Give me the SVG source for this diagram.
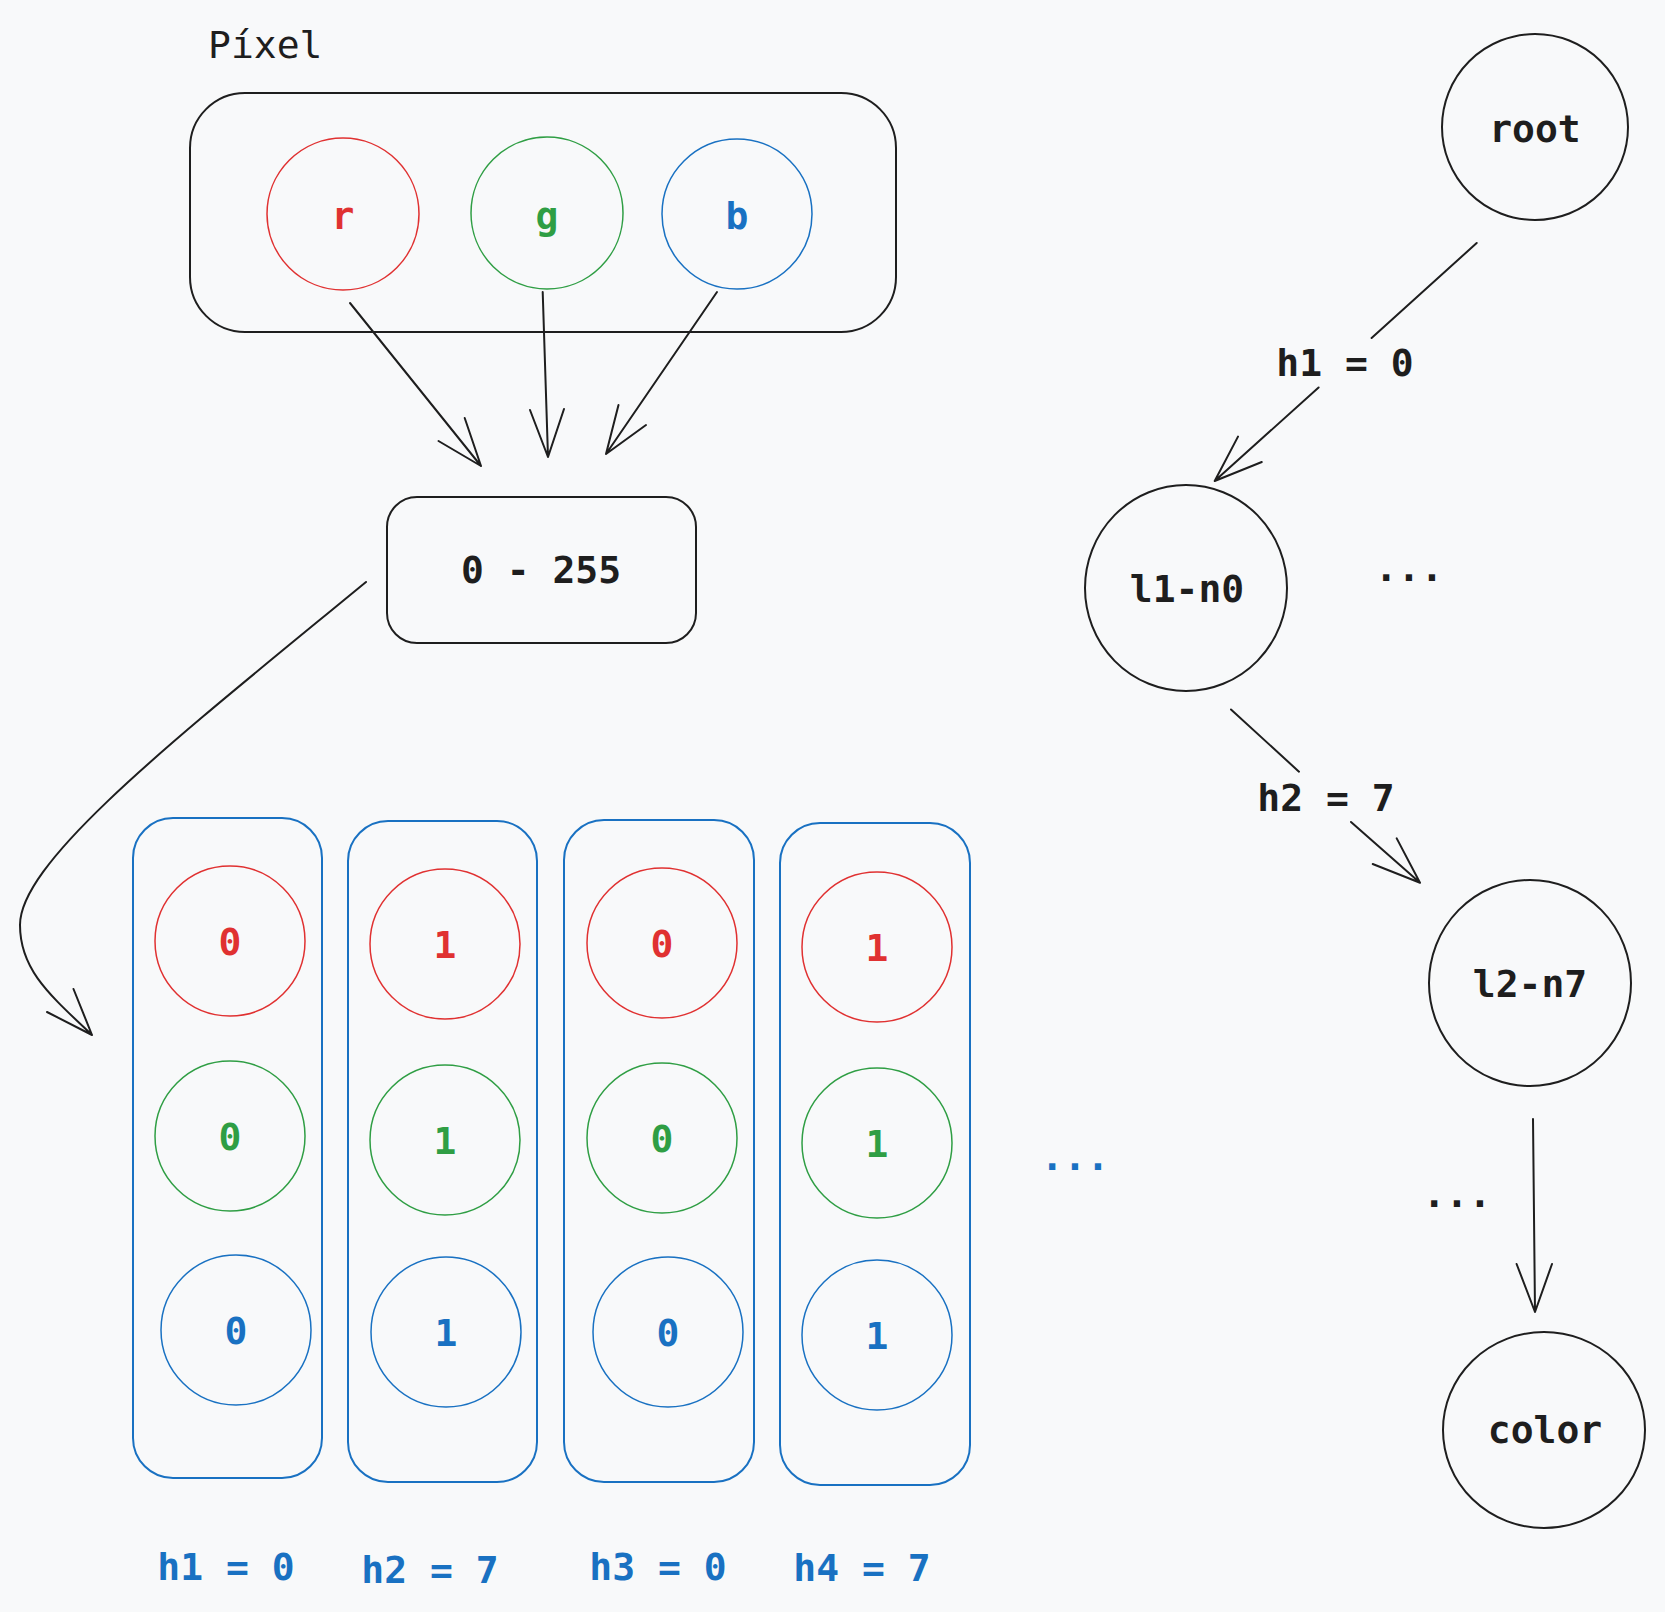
<svg xmlns="http://www.w3.org/2000/svg" width="1665" height="1612" viewBox="0 0 1665 1612">
<style>
text{font-family:"DejaVu Sans Mono","Liberation Mono",monospace;font-size:38px;text-anchor:middle}
.b{font-weight:bold}
.k{fill:#1e1e1e}.r{fill:#e03131}.g{fill:#2f9e44}.u{fill:#1971c2}
.box{fill:none;stroke:#1e1e1e;stroke-width:2}
.col{fill:none;stroke:#1971c2;stroke-width:2}
.cr{fill:none;stroke:#e03131;stroke-width:1.5}
.cg{fill:none;stroke:#2f9e44;stroke-width:1.5}
.cu{fill:none;stroke:#1971c2;stroke-width:1.5}
.ck{fill:none;stroke:#1e1e1e;stroke-width:2}
.ln{fill:none;stroke:#1e1e1e;stroke-width:2;stroke-linecap:round;stroke-linejoin:round}
</style>
<rect width="1665" height="1612" fill="#f8f9fa"/>

<g id="pixel">
<text class="k" x="208" y="58" style="text-anchor:start">Píxel</text>
<rect class="box" x="190" y="93" width="706" height="239" rx="55"/>
</g>
<g id="pixel-r"><circle class="cr" cx="343" cy="214" r="76"/><text class="r b" x="343" y="229">r</text></g>
<g id="pixel-g"><circle class="cg" cx="547" cy="213" r="76"/><text class="g b" x="547" y="229">g</text></g>
<g id="pixel-b"><circle class="cu" cx="737" cy="214" r="75"/><text class="u b" x="737" y="229">b</text></g>

<g id="range"><rect class="box" x="387" y="497" width="309" height="146" rx="30"/><text class="k b" x="541" y="583">0 - 255</text></g>

<g id="col1">
<rect class="col" x="133" y="818" width="189" height="660" rx="40"/>
<circle class="cr" cx="230" cy="941" r="75"/><text class="r b" x="230" y="955">0</text>
<circle class="cg" cx="230" cy="1136" r="75"/><text class="g b" x="230" y="1150">0</text>
<circle class="cu" cx="236" cy="1330" r="75"/><text class="u b" x="236" y="1344">0</text>
</g>
<g id="col2">
<rect class="col" x="348" y="821" width="189" height="661" rx="40"/>
<circle class="cr" cx="445" cy="944" r="75"/><text class="r b" x="445" y="958">1</text>
<circle class="cg" cx="445" cy="1140" r="75"/><text class="g b" x="445" y="1154">1</text>
<circle class="cu" cx="446" cy="1332" r="75"/><text class="u b" x="446" y="1346">1</text>
</g>
<g id="col3">
<rect class="col" x="564" y="820" width="190" height="662" rx="40"/>
<circle class="cr" cx="662" cy="943" r="75"/><text class="r b" x="662" y="957">0</text>
<circle class="cg" cx="662" cy="1138" r="75"/><text class="g b" x="662" y="1152">0</text>
<circle class="cu" cx="668" cy="1332" r="75"/><text class="u b" x="668" y="1346">0</text>
</g>
<g id="col4">
<rect class="col" x="780" y="823" width="190" height="662" rx="40"/>
<circle class="cr" cx="877" cy="947" r="75"/><text class="r b" x="877" y="961">1</text>
<circle class="cg" cx="877" cy="1143" r="75"/><text class="g b" x="877" y="1157">1</text>
<circle class="cu" cx="877" cy="1335" r="75"/><text class="u b" x="877" y="1349">1</text>
</g>

<g id="labels">
<text class="u b" x="226" y="1580">h1 = 0</text>
<text class="u b" x="430" y="1583">h2 = 7</text>
<text class="u b" x="658" y="1580">h3 = 0</text>
<text class="u b" x="862" y="1581">h4 = 7</text>
<text class="u b" x="1075" y="1170">...</text>
<text class="k b" x="1409" y="581">...</text>
<text class="k b" x="1457" y="1207">...</text>
</g>

<g id="root"><ellipse class="ck" cx="1535" cy="127" rx="93" ry="93"/><text class="k b" x="1535" y="142">root</text></g>
<g id="l1-n0"><ellipse class="ck" cx="1186" cy="588" rx="101" ry="103"/><text class="k b" x="1187" y="602">l1-n0</text></g>
<g id="l2-n7"><ellipse class="ck" cx="1530" cy="983" rx="101" ry="103"/><text class="k b" x="1530" y="997">l2-n7</text></g>
<g id="color"><ellipse class="ck" cx="1544" cy="1430" rx="101" ry="98"/><text class="k b" x="1545" y="1443">color</text></g>

<g id="connectors">
<path class="ln" d="M350,303 L481,466 M438.5,441 L481,466 L464.7,418"/>
<path class="ln" d="M542.7,292 L548,457 M530,410 L548,457 L564,409"/>
<path class="ln" d="M717,292 L606,454 M618.5,405 L606,454 L646,425"/>
<path class="ln" d="M366,582 C180,735 20,860 20,925 C20,970 50,995 92,1035 M47,1012 L92,1035 L73.5,989"/>
<path class="ln" d="M1476.7,243 L1371.6,338 M1318.6,387.5 L1214.7,481 M1238,436.6 L1214.7,481 L1261.8,462"/>
<text class="k b" x="1345" y="376">h1 = 0</text>
<path class="ln" d="M1231,709.5 L1299,771.7 M1351,822 L1420,882.8 M1372.7,864 L1420,882.8 L1396.7,838.4"/>
<text class="k b" x="1326" y="811">h2 = 7</text>
<path class="ln" d="M1533,1119 L1535,1312 M1516.6,1264 L1535,1312 L1552,1264"/>
</g>
</svg>
